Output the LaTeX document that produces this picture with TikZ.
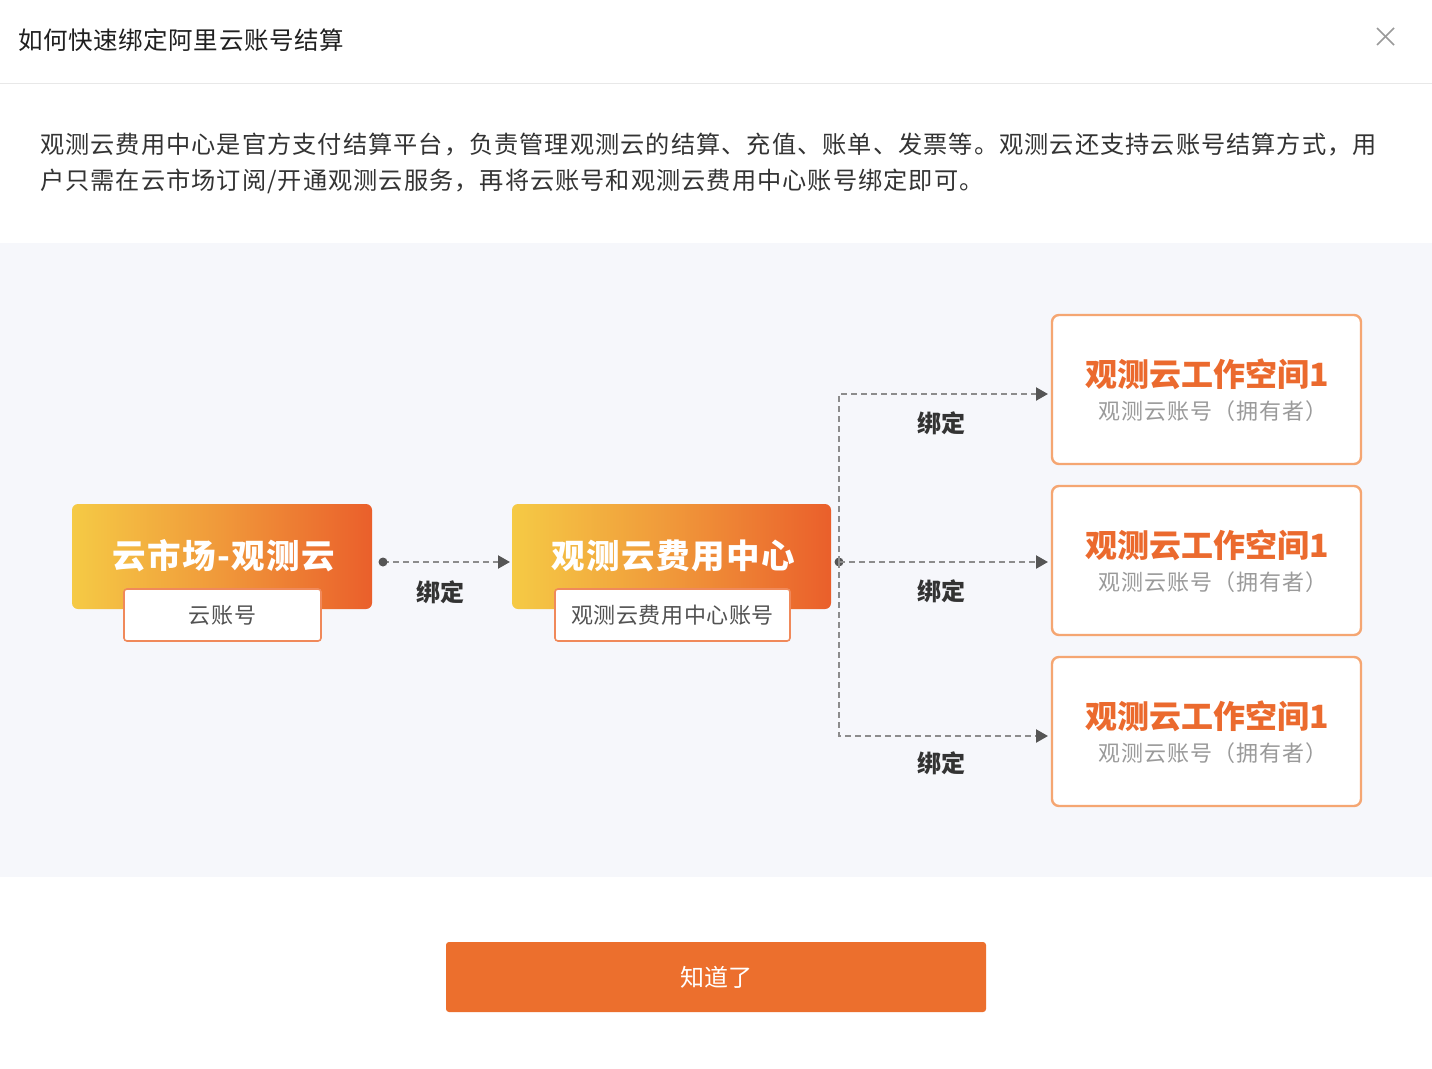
\documentclass[tikz,border=0pt]{standalone}
\usepackage{fontspec}
\setmainfont{Noto Sans CJK SC}
\usetikzlibrary{arrows.meta,calc}
\definecolor{titlec}{HTML}{1F1F1F}
\definecolor{bodyc}{HTML}{333333}
\definecolor{panelc}{HTML}{F6F7FB}
\definecolor{sepc}{HTML}{E8E8E8}
\definecolor{gradl}{HTML}{F5CA45}
\definecolor{gradm}{HTML}{F0983A}
\definecolor{gradr}{HTML}{EA5F2B}
\definecolor{subb}{HTML}{F0895A}
\definecolor{wsb}{HTML}{F5A672}
\definecolor{wst}{HTML}{EB6A2E}
\definecolor{wss}{HTML}{9A9A9A}
\definecolor{linec}{HTML}{8C8C8C}
\definecolor{tipc}{HTML}{555555}
\definecolor{labc}{HTML}{333333}
\definecolor{btnc}{HTML}{EC6F2D}
\begin{document}
\begin{tikzpicture}[x=1pt,y=-1pt,
  mainbox/.style={rounded corners=6pt, left color=gradl, right color=gradr, middle color=gradm, shading angle=90,
     inner sep=0pt, outer sep=0pt},
  maintext/.style={text=white, font=\fontsize{33.5}{33}\selectfont\bfseries\addfontfeature{LetterSpace=4.5}, inner sep=0pt},
  subbox/.style={rounded corners=3pt, fill=white, draw=subb, line width=1.6pt, text=bodyc!85!white,
     font=\fontsize{22}{22}\selectfont\addfontfeature{LetterSpace=2.5}, inner sep=0pt, outer sep=0pt},
  wsbox/.style={rounded corners=7pt, fill=white, draw=wsb, line width=2.4pt, inner sep=0pt, outer sep=0pt},
  wstitle/.style={text=wst, font=\fontsize{32}{32}\selectfont\bfseries, inner sep=0pt},
  wssub/.style={text=wss, font=\fontsize{22}{22}\selectfont\addfontfeature{LetterSpace=5}, inner sep=0pt},
  bindlab/.style={text=labc, font=\fontsize{24}{24}\selectfont\bfseries, inner sep=0pt},
  flow/.style={draw=linec, line width=2.2pt, dash pattern=on 6pt off 4pt, -{Triangle[length=12pt,width=13pt,color=tipc]}},
  btn/.style={rounded corners=3pt, fill=btnc, text=white, font=\fontsize{24}{24}\selectfont, inner sep=0pt, outer sep=0pt},
  bodytext/.style={anchor=west, text=bodyc, font=\fontsize{24.2}{24}\selectfont\addfontfeature{LetterSpace=4.3}, inner sep=0pt}
]
\useasboundingbox[fill=white] (0,0) rectangle (1432,1068);
\fill[panelc] (0,243) rectangle (1432,877);
\draw[sepc, line width=1.2pt] (0,83.5) -- (1432,83.5);

% header
\node[anchor=west, text=titlec, font=\fontsize{24.5}{24}\selectfont\addfontfeature{LetterSpace=2.5}, inner sep=0pt] (title) at (18,40) {如何快速绑定阿里云账号结算};
\coordinate (xc) at (1385.5,36.5);
\draw[wss, line width=1.6pt] ($(xc)+(-8.5,-8.5)$) -- ($(xc)+(8.5,8.5)$);
\draw[wss, line width=1.6pt] ($(xc)+(-8.5,8.5)$) -- ($(xc)+(8.5,-8.5)$);

% paragraph
\node[bodytext] (p1) at (40,145) {观测云费用中心是官方支付结算平台，负责管理观测云的结算、充值、账单、发票等。观测云还支持云账号结算方式，用};
\node[bodytext] (p2) at (40,181) {户只需在云市场订阅/开通观测云服务，再将云账号和观测云费用中心账号绑定即可。};

% main boxes
\node[mainbox, minimum width=300pt, minimum height=105pt] (A) at (222,556.5) {};
\node[maintext] (At) at (223.5,556) {云市场-观测云};
\node[subbox, minimum width=197pt, minimum height=52pt] (a) at (222.5,615) {云账号};

\node[mainbox, minimum width=319pt, minimum height=105pt] (B) at (671.5,556.5) {};
\node[maintext] (Bt) at (673,556) {观测云费用中心};
\node[subbox, minimum width=235pt, minimum height=52pt] (b) at (672.5,615) {观测云费用中心账号};

% workspace boxes
\foreach \n/\y in {1/389.5, 2/560.5, 3/731.5}{
  \node[wsbox, minimum width=309pt, minimum height=149pt] (w\n) at (1206.5,\y) {};
  \node[wstitle] (w\n t) at (1207,\y-15.5) {观测云工作空间1};
  \node[wssub] (w\n s) at (1213,\y+21.5) {观测云账号（拥有者）};
}

% connectors
\coordinate (s0) at ([xshift=11pt,yshift=-5.5pt]A.east);
\draw[flow, shorten >=2pt] (s0) -- ([yshift=-5.5pt]B.west);
\fill[tipc] (s0) circle (4.5pt);

\coordinate (j) at (839,562);
\fill[tipc] (j) circle (4.5pt);
\draw[flow, shorten >=4pt] (j) |- ([yshift=-4.5pt]w1.west);
\draw[flow, shorten >=4pt] (j) -- ([yshift=-1.5pt]w2.west);
\draw[flow, shorten >=4pt] (j) |- ([yshift=-4.5pt]w3.west);

\node[bindlab] (l0) at (440,592) {绑定};
\node[bindlab] (l1) at (941,423) {绑定};
\node[bindlab] (l2) at (941,591) {绑定};
\node[bindlab] (l3) at (941,763) {绑定};

% button
\node[btn, minimum width=540pt, minimum height=70pt] (ok) at (716,977) {知道了};
\end{tikzpicture}
\end{document}
